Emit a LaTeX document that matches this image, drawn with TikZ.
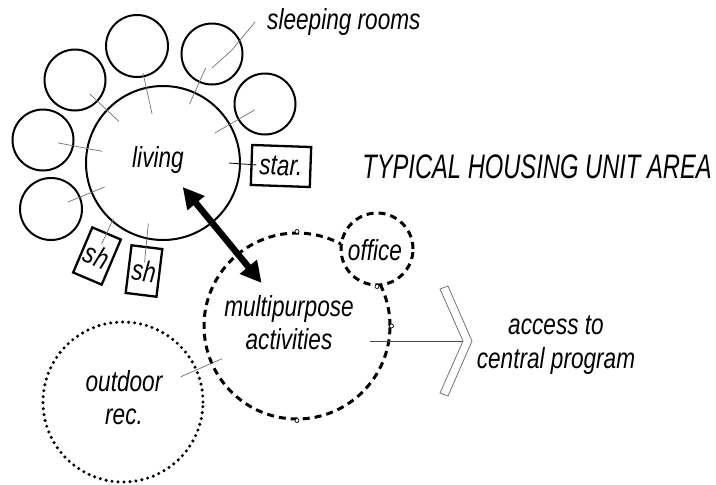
\documentclass[tikz,border=0pt]{standalone}
\usepackage{fontspec}
\setmainfont{Liberation Sans}[FakeStretch=0.78]
\usetikzlibrary{arrows.meta,calc}
\begin{document}
\begin{tikzpicture}[x=1pt,y=-1pt,
  room/.style={circle, draw, line width=2pt, fill=white, inner sep=0pt},
  lbl/.style={font=\fontsize{29}{31}\selectfont\itshape, inner sep=0pt, align=center},
  conn/.style={draw=black!55, line width=0.7pt},
  boxr/.style={draw, line width=2.3pt, fill=white, inner sep=0pt, font=\fontsize{29}{31}\selectfont\itshape},
  dashc/.style={circle, draw, line width=3pt, dash pattern=on 7pt off 5pt, inner sep=0pt},
  dotc/.style={circle, draw, line width=3.4pt, dash pattern=on 0pt off 6pt, line cap=round, inner sep=0pt},
  grip/.style={circle, draw, line width=0.7pt, fill=white, inner sep=0pt, minimum size=4pt}
]
\useasboundingbox[fill=white] (0,0) rectangle (716,485);

% sleeping rooms
\node[room, minimum size=62pt] (s1) at (137,46) {};
\node[room, minimum size=61pt] (s2) at (212,54) {};
\node[room, minimum size=61pt] (s3) at (265,104) {};
\node[room, minimum size=61pt] (s4) at (75,80) {};
\node[room, minimum size=61pt] (s5) at (43,140) {};
\node[room, minimum size=62pt] (s6) at (51,209) {};

% living
\node[room, minimum size=154pt] (liv) at (163,163) {};
\node[lbl] (livt) at (158,160) {living};

% connectors rooms -> living
\draw[conn] ($(s1)!0.23!(liv)$) -- ($(s1)!0.58!(liv)$);
\draw[conn] ($(s2)!0.13!(liv)$) -- ($(s2)!0.46!(liv)$);
\draw[conn] ($(s3)!0.10!(liv)$) -- ($(s3)!0.49!(liv)$);
\draw[conn] ($(s4)!0.17!(liv)$) -- ($(s4)!0.50!(liv)$);
\draw[conn] ($(s5)!0.125!(liv)$) -- ($(s5)!0.49!(liv)$);
\draw[conn] ($(s6)!0.15!(liv)$) -- ($(s6)!0.48!(liv)$);

% sleeping rooms label
\node[lbl, anchor=west] (slp) at (267,22) {sleeping rooms};
\draw[conn] ([yshift=-14pt]s2.center) -- ++(20,-18) -- ([xshift=-12pt]slp.west);

% storage
\node[boxr, minimum width=59pt, minimum height=40pt, rotate=-2] (star) at (281,166) {star.};
\draw[line width=0.8pt] ([xshift=-12pt]liv.east) -- ([xshift=6pt]star.west);

% shower boxes
\node[boxr, minimum width=31pt, minimum height=49pt, rotate=-23] (sh1) at (97,256) {sh};
\node[boxr, minimum width=31pt, minimum height=48pt, rotate=-7] (sh2) at (144,271) {sh};
\draw[conn] ([xshift=-10pt]$(liv)!0.6!(sh1)$) -- ([xshift=-4pt]$(liv)!0.87!(sh1)$);
\draw[conn] ([xshift=-4pt]$(liv)!0.56!(sh2)$) -- ([xshift=-1pt]$(liv)!0.92!(sh2)$);

% title
\node[inner sep=0pt, font=\fontsize{34}{36}\selectfont\itshape] (title) at (537,167)
  {\scalebox{0.895}[1]{TYPICAL HOUSING UNIT AREA}};

% multipurpose, office, outdoor
\node[dotc, minimum size=160pt] (out) at (123,402) {};
\node[lbl] (outt) at (124,398) {outdoor\\[2pt]rec.};
\node[dashc, minimum size=186pt] (mp) at (297,326) {};
\node[lbl] (mpt) at (289,323) {multipurpose\\[2pt]activities};
\node[dashc, minimum size=72pt, fill=white] (off) at (377,249) {};
\node[lbl] (offt) at (375,250) {office};
\node[grip] at (mp.north) {};
\node[grip] at (mp.east) {};
\node[grip] at (mp.south) {};
\node[grip] at (off.south) {};

\draw[conn] ($(out)!0.33!(mp)$) -- ($(out)!0.57!(mp)$);

% double arrow living <-> multipurpose
\draw[line width=6.5pt, {Triangle[length=21pt,width=21pt]}-{Triangle[length=21pt,width=21pt]}]
  ($(liv)!0.147!(mp)$) -- ($(liv)!0.736!(mp)$);

% chevron and access
\coordinate (chev) at (463,341);
\draw[draw=black!60, line width=0.7pt, fill=white]
  (440,289) -- (448,286) -- (472,341) -- (448,396) -- (440,393) -- (chev) -- cycle;
\draw[line width=0.8pt, draw=black!70] ([shift={(73,15)}]mp.center) -- (chev);
\node[lbl] (acc) at (556,345) {access to\\[3pt]central program};
\end{tikzpicture}
\end{document}
